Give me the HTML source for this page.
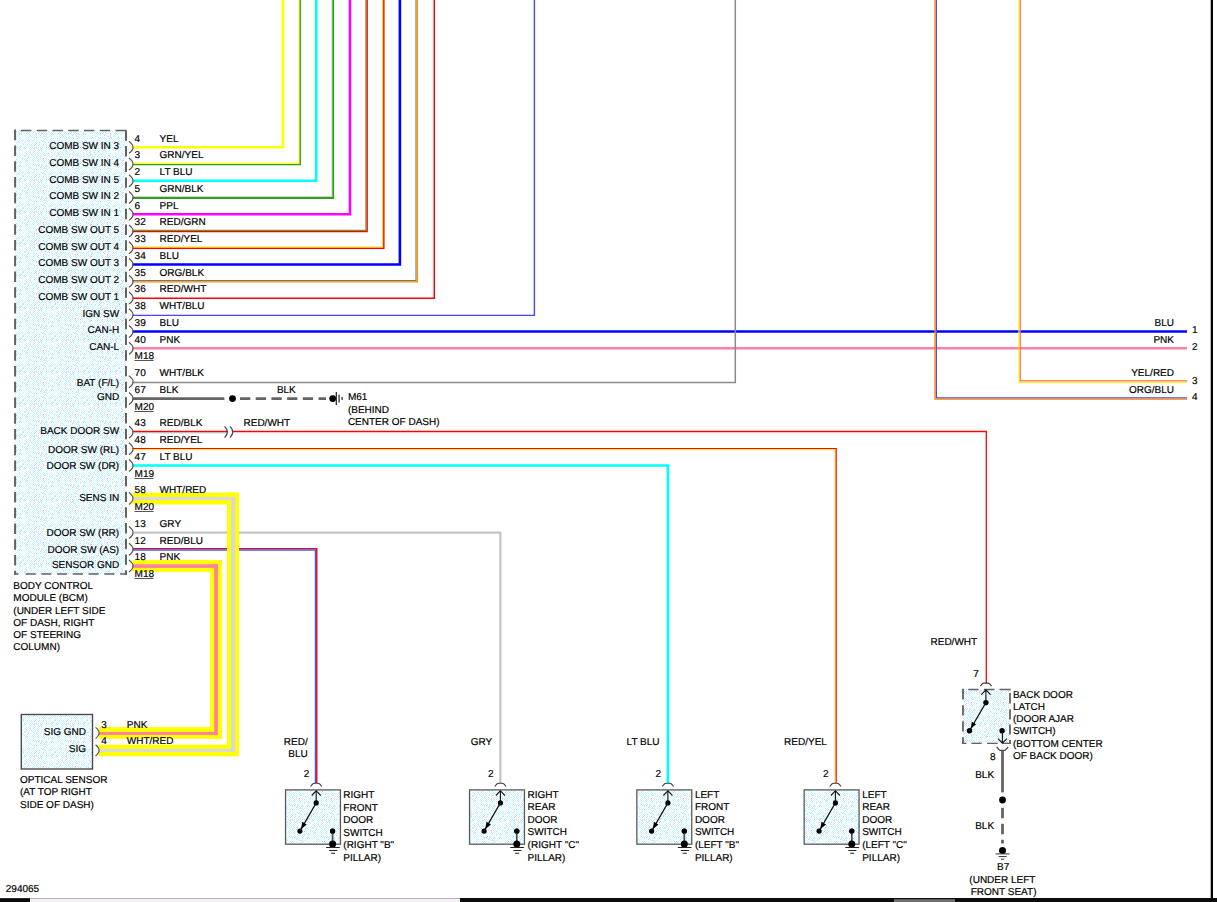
<!DOCTYPE html>
<html><head><meta charset="utf-8"><title>Wiring Diagram</title>
<style>html,body{margin:0;padding:0;background:#fff;}body{width:1217px;height:902px;overflow:hidden;}svg{display:block}text{font-family:"Liberation Sans",sans-serif;font-size:10px;fill:#000;stroke:#000;stroke-width:0.18px;text-rendering:geometricPrecision;}</style>
</head><body>
<svg width="1217" height="902" viewBox="0 0 1217 902">
<rect x="0" y="0" width="1217" height="902" fill="#fff"/>
<defs><pattern id="dz" width="32" height="32" patternUnits="userSpaceOnUse" shape-rendering="crispEdges"><rect width="32" height="32" fill="#fff"/><path d="M1 0.5h1M5 0.5h1M11 0.5h1M27 0.5h1M6 1.5h1M12 1.5h1M26 1.5h1M16 3.5h1M1 4.5h1M7 4.5h1M9 4.5h1M4 5.5h1M6 5.5h1M14 5.5h1M26 5.5h1M9 6.5h1M19 6.5h1M21 6.5h1M8 7.5h1M30 7.5h1M2 9.5h1M4 9.5h1M28 9.5h1M13 10.5h1M2 11.5h1M1 12.5h1M10 13.5h1M18 13.5h1M22 13.5h1M7 14.5h1M25 14.5h1M4 15.5h1M3 16.5h1M11 16.5h1M23 16.5h1M27 16.5h1M31 16.5h1M2 17.5h1M6 17.5h1M14 17.5h1M21 18.5h1M4 19.5h1M6 19.5h1M14 19.5h1M16 19.5h1M24 19.5h1M9 20.5h1M19 20.5h1M6 21.5h1M8 21.5h1M20 21.5h1M19 22.5h1M31 22.5h1M2 23.5h1M25 24.5h1M14 25.5h1M26 25.5h1M5 26.5h1M31 26.5h1M12 27.5h1M1 28.5h1M17 28.5h1M4 29.5h1M8 29.5h1M11 30.5h1M27 30.5h1M6 31.5h1M16 31.5h1M24 31.5h1" stroke="#ccccff" stroke-width="1" fill="none"/><path d="M3 0.5h1M7 0.5h1M9 0.5h1M13 0.5h1M15 0.5h1M17 0.5h1M21 0.5h1M23 0.5h1M29 0.5h1M31 0.5h1M0 1.5h1M2 1.5h1M4 1.5h1M10 1.5h1M14 1.5h1M18 1.5h1M22 1.5h1M24 1.5h1M30 1.5h1M1 2.5h1M3 2.5h1M7 2.5h1M9 2.5h1M11 2.5h1M15 2.5h1M17 2.5h1M19 2.5h1M20 2.5h1M21 2.5h1M23 2.5h1M29 2.5h1M31 2.5h1M0 3.5h1M2 3.5h1M6 3.5h1M10 3.5h1M12 3.5h1M14 3.5h1M18 3.5h1M20 3.5h1M24 3.5h1M26 3.5h1M28 3.5h1M30 3.5h1M3 4.5h1M5 4.5h1M11 4.5h1M13 4.5h1M15 4.5h1M19 4.5h1M21 4.5h1M23 4.5h1M25 4.5h1M29 4.5h1M31 4.5h1M0 5.5h1M2 5.5h1M8 5.5h1M12 5.5h1M18 5.5h1M22 5.5h1M24 5.5h1M28 5.5h1M30 5.5h1M1 6.5h1M3 6.5h1M7 6.5h1M11 6.5h1M13 6.5h1M15 6.5h1M17 6.5h1M23 6.5h1M25 6.5h1M29 6.5h1M31 6.5h1M0 7.5h1M2 7.5h1M4 7.5h1M6 7.5h1M10 7.5h1M12 7.5h1M14 7.5h1M17 7.5h1M18 7.5h1M20 7.5h1M22 7.5h1M24 7.5h1M28 7.5h1M1 8.5h1M5 8.5h1M7 8.5h1M9 8.5h1M11 8.5h1M13 8.5h1M16 8.5h1M17 8.5h1M19 8.5h1M23 8.5h1M27 8.5h1M29 8.5h1M0 9.5h1M6 9.5h1M10 9.5h1M14 9.5h1M18 9.5h1M20 9.5h1M22 9.5h1M26 9.5h1M30 9.5h1M3 10.5h1M7 10.5h1M9 10.5h1M11 10.5h1M15 10.5h1M21 10.5h1M23 10.5h1M27 10.5h1M29 10.5h1M31 10.5h1M0 11.5h1M4 11.5h1M6 11.5h1M8 11.5h1M12 11.5h1M14 11.5h1M16 11.5h1M18 11.5h1M20 11.5h1M22 11.5h1M28 11.5h1M30 11.5h1M4 12.5h1M5 12.5h1M7 12.5h1M11 12.5h1M13 12.5h1M15 12.5h1M17 12.5h1M19 12.5h1M25 12.5h1M31 12.5h1M0 13.5h1M2 13.5h1M4 13.5h1M6 13.5h1M7 13.5h1M8 13.5h1M11 13.5h1M12 13.5h1M14 13.5h1M19 13.5h1M20 13.5h1M24 13.5h1M25 13.5h1M26 13.5h1M28 13.5h1M30 13.5h1M1 14.5h1M5 14.5h1M9 14.5h1M11 14.5h1M15 14.5h1M18 14.5h1M19 14.5h1M21 14.5h1M23 14.5h1M27 14.5h1M28 14.5h1M29 14.5h1M31 14.5h1M0 15.5h1M2 15.5h1M8 15.5h1M10 15.5h1M12 15.5h1M14 15.5h1M16 15.5h1M20 15.5h1M22 15.5h1M24 15.5h1M28 15.5h1M1 16.5h1M9 16.5h1M13 16.5h1M15 16.5h1M17 16.5h1M19 16.5h1M21 16.5h1M25 16.5h1M29 16.5h1M0 17.5h1M4 17.5h1M8 17.5h1M10 17.5h1M11 17.5h1M12 17.5h1M16 17.5h1M18 17.5h1M20 17.5h1M22 17.5h1M24 17.5h1M26 17.5h1M28 17.5h1M30 17.5h1M1 18.5h1M5 18.5h1M7 18.5h1M9 18.5h1M11 18.5h1M15 18.5h1M17 18.5h1M19 18.5h1M23 18.5h1M25 18.5h1M26 18.5h1M27 18.5h1M28 18.5h1M29 18.5h1M31 18.5h1M0 19.5h1M2 19.5h1M12 19.5h1M18 19.5h1M22 19.5h1M26 19.5h1M30 19.5h1M1 20.5h1M3 20.5h1M5 20.5h1M7 20.5h1M10 20.5h1M11 20.5h1M13 20.5h1M17 20.5h1M21 20.5h1M23 20.5h1M24 20.5h1M25 20.5h1M29 20.5h1M31 20.5h1M0 21.5h1M2 21.5h1M4 21.5h1M10 21.5h1M12 21.5h1M14 21.5h1M16 21.5h1M22 21.5h1M24 21.5h1M28 21.5h1M30 21.5h1M1 22.5h1M3 22.5h1M5 22.5h1M8 22.5h1M9 22.5h1M11 22.5h1M13 22.5h1M17 22.5h1M21 22.5h1M25 22.5h1M29 22.5h1M0 23.5h1M6 23.5h1M12 23.5h1M14 23.5h1M22 23.5h1M26 23.5h1M28 23.5h1M30 23.5h1M3 24.5h1M5 24.5h1M7 24.5h1M9 24.5h1M11 24.5h1M13 24.5h1M15 24.5h1M17 24.5h1M27 24.5h1M29 24.5h1M31 24.5h1M0 25.5h1M2 25.5h1M4 25.5h1M8 25.5h1M10 25.5h1M12 25.5h1M16 25.5h1M18 25.5h1M20 25.5h1M22 25.5h1M24 25.5h1M30 25.5h1M1 26.5h1M3 26.5h1M7 26.5h1M9 26.5h1M11 26.5h1M13 26.5h1M15 26.5h1M17 26.5h1M19 26.5h1M21 26.5h1M23 26.5h1M27 26.5h1M29 26.5h1M0 27.5h1M2 27.5h1M6 27.5h1M8 27.5h1M10 27.5h1M14 27.5h1M16 27.5h1M20 27.5h1M22 27.5h1M24 27.5h1M26 27.5h1M28 27.5h1M3 28.5h1M5 28.5h1M7 28.5h1M9 28.5h1M11 28.5h1M13 28.5h1M15 28.5h1M23 28.5h1M25 28.5h1M27 28.5h1M29 28.5h1M31 28.5h1M0 29.5h1M2 29.5h1M6 29.5h1M14 29.5h1M16 29.5h1M18 29.5h1M20 29.5h1M22 29.5h1M24 29.5h1M26 29.5h1M28 29.5h1M30 29.5h1M1 30.5h1M3 30.5h1M5 30.5h1M15 30.5h1M17 30.5h1M19 30.5h1M21 30.5h1M23 30.5h1M25 30.5h1M29 30.5h1M0 31.5h1M2 31.5h1M4 31.5h1M8 31.5h1M12 31.5h1M18 31.5h1M20 31.5h1M22 31.5h1M26 31.5h1M28 31.5h1" stroke="#ccffff" stroke-width="1" fill="none"/><path d="M25 0.5h1M26 0.5h1M16 1.5h1M20 1.5h1M25 2.5h1M21 3.5h1M27 4.5h1M10 5.5h1M19 5.5h1M20 5.5h1M4 6.5h1M14 6.5h1M12 8.5h1M14 8.5h1M31 8.5h1M8 9.5h1M15 9.5h1M5 10.5h1M19 10.5h1M25 10.5h1M9 12.5h1M23 12.5h1M27 12.5h1M29 12.5h1M29 13.5h1M3 14.5h1M13 14.5h1M16 14.5h1M17 14.5h1M23 15.5h1M7 16.5h1M20 18.5h1M8 19.5h1M10 19.5h1M19 19.5h1M20 19.5h1M2 20.5h1M7 22.5h1M9 23.5h1M1 24.5h1M19 24.5h1M30 24.5h1M6 25.5h1M26 26.5h1M9 27.5h1M13 27.5h1M25 27.5h1M19 28.5h1M24 28.5h1M28 28.5h1M13 30.5h1M22 30.5h1M11 31.5h1M14 31.5h1" stroke="#ffccff" stroke-width="1" fill="none"/><path d="M8 1.5h1M5 2.5h1M27 2.5h1M22 3.5h1M17 4.5h1M16 13.5h1M6 15.5h1M28 19.5h1M10 23.5h1M18 23.5h1M30 31.5h1" stroke="#ffffcc" stroke-width="1" fill="none"/><path d="M25 8.5h1M21 12.5h1M18 15.5h1M23 22.5h1" stroke="#ccffcc" stroke-width="1" fill="none"/></pattern></defs>
<rect x="15" y="130.5" width="111" height="443.5" fill="url(#dz)"/>
<path d="M21 130.6 H127" stroke="#626262" stroke-width="1.5" stroke-dasharray="10.4 5.35" fill="none"/>
<path d="M14 130.6 H16" stroke="#626262" stroke-width="1.5" fill="none"/>
<path d="M25.6 574 H127" stroke="#626262" stroke-width="1.5" stroke-dasharray="10.1 5.65" fill="none"/>
<path d="M14 574 H18.5" stroke="#626262" stroke-width="1.5" fill="none"/>
<path d="M15.1 129.8 V574.7" stroke="#626262" stroke-width="2" stroke-dasharray="10.4 5.35" fill="none"/>
<path d="M126 130.3 V574.7" stroke="#626262" stroke-width="2" stroke-dasharray="10.4 5.31" fill="none"/>
<path d="M132.6 147.3 L283 147.3 L283 -2" stroke="#ffff00" stroke-width="2.6" fill="none" />
<path d="M132.6 163.35 L299 163.35 L299 -2" stroke="#ffff00" stroke-width="1.1" fill="none" />
<path d="M132.6 164.6 L300.25 164.6 L300.25 -2" stroke="#2ea01e" stroke-width="1.4" fill="none" />
<path d="M132.6 180.8 L316.3 180.8 L316.3 -2" stroke="#00ffff" stroke-width="2.6" fill="none" />
<path d="M132.6 196.65 L331.9 196.65 L331.9 -2" stroke="#c8c8c8" stroke-width="0.9" fill="none" />
<path d="M132.6 198 L333.25 198 L333.25 -2" stroke="#2ea01e" stroke-width="1.8" fill="none" />
<path d="M132.6 214.3 L350 214.3 L350 -2" stroke="#ff00ff" stroke-width="2.6" fill="none" />
<path d="M132.6 230.35 L365.9 230.35 L365.9 -2" stroke="#5aa028" stroke-width="1.1" fill="none" />
<path d="M132.6 231.6 L367.15 231.6 L367.15 -2" stroke="#ff0000" stroke-width="1.4" fill="none" />
<path d="M132.6 247.1 L382.6 247.1 L382.6 -2" stroke="#ffe000" stroke-width="1.1" fill="none" />
<path d="M132.6 248.35 L383.85 248.35 L383.85 -2" stroke="#ff0000" stroke-width="1.4" fill="none" />
<path d="M132.6 264.55 L399.9 264.55 L399.9 -2" stroke="#0000ff" stroke-width="2.6" fill="none" />
<path d="M132.6 280.6 L416 280.6 L416 -2" stroke="#78786c" stroke-width="1.1" fill="none" />
<path d="M132.6 281.85 L417.25 281.85 L417.25 -2" stroke="#f89000" stroke-width="1.4" fill="none" />
<path d="M132.6 298.35 L434.3 298.35 L434.3 -2" stroke="#ff0000" stroke-width="1.5" fill="none" />
<path d="M132.6 315.4 L534.4 315.4 L534.4 -2" stroke="#4646ff" stroke-width="1.4" fill="none" />
<path d="M132.6 331.55 L1187 331.55" stroke="#0000ff" stroke-width="2.6" fill="none" />
<path d="M132.6 348.3 L1187 348.3" stroke="#ff80a0" stroke-width="2.6" fill="none" />
<path d="M132.6 382.4 L735.3 382.4 L735.3 -2" stroke="#8a8a8a" stroke-width="1.5" fill="none" />
<path d="M936.4 -2 L936.4 397.85 L1187 397.85" stroke="#4848ff" stroke-width="1.2" fill="none" />
<path d="M935.1 -2 L935.1 399.15 L1187 399.15" stroke="#ff8000" stroke-width="1.4" fill="none" />
<path d="M1020.2 -2 L1020.2 380.9 L1187 380.9" stroke="#ff5c5c" stroke-width="1.2" fill="none" />
<path d="M1019 -2 L1019 382.1 L1187 382.1" stroke="#ffec00" stroke-width="1.2" fill="none" />
<path d="M132.6 398.55 L224.4 398.55" stroke="#646464" stroke-width="2.8" fill="none" />
<path d="M240 398.55 H326" stroke="#646464" stroke-width="2.8" stroke-dasharray="10.3 5.4" fill="none"/>
<circle cx="232.5" cy="398.55" r="3.4" fill="#000"/>
<circle cx="332.7" cy="398.55" r="3.4" fill="#000"/>
<path d="M336.3 391.9 V405 M339.1 394.8 V402.4 M342.1 397 V400" stroke="#222" stroke-width="1.2" fill="none"/>
<path d="M132.6 431.45 L227 431.45" stroke="#ff0000" stroke-width="1.4" fill="none" />
<path d="M132.6 432.75 L227 432.75" stroke="#b4b4b4" stroke-width="1.2" fill="none" />
<path d="M233 431.5 L986.3 431.5 L986.3 683.2" stroke="#ff0000" stroke-width="1.3" fill="none" />
<path d="M224.6 426.4 Q230.2 432 224.6 437.6 M230 426.4 Q235.6 432 230 437.6" stroke="#484848" stroke-width="1.25" fill="none"/>
<path d="M835 783 L835 449.7 L132.6 449.7" stroke="#fff040" stroke-width="1.2" fill="none" />
<path d="M836.2 783 L836.2 448.5 L132.6 448.5" stroke="#ff0000" stroke-width="1.2" fill="none" />
<path d="M132.6 465.55 L667.9 465.55 L667.9 783" stroke="#00ffff" stroke-width="2.6" fill="none" />
<path d="M132.6 532.55 L500.4 532.55 L500.4 783" stroke="#c4c4c4" stroke-width="2.2" fill="none" />
<path d="M132.6 548.65 L316.75 548.65 L316.75 783" stroke="#ff0000" stroke-width="1.4" fill="none" />
<path d="M132.6 550 L315.4 550 L315.4 783" stroke="#3c5cff" stroke-width="1.3" fill="none" />
<rect x="132.6" y="492.6" width="106.4" height="11.8" fill="#ffff00"/>
<rect x="227" y="492.6" width="12" height="263.6" fill="#ffff00"/>
<rect x="98.8" y="744.6" width="140.2" height="11.6" fill="#ffff00"/>
<rect x="132.6" y="497.1" width="102.4" height="2.9" fill="#d6d6e8"/>
<rect x="231.1" y="497.1" width="3.9" height="254.8" fill="#d6d6e8"/>
<rect x="98.8" y="749" width="136.2" height="2.9" fill="#d6d6e8"/>
<rect x="132.6" y="560.1" width="89.3" height="11.8" fill="#ffff00"/>
<rect x="210.1" y="560.1" width="11.8" height="178.7" fill="#ffff00"/>
<rect x="98.8" y="727.1" width="123.1" height="11.7" fill="#ffff00"/>
<rect x="132.6" y="564.3" width="85.3" height="3.6" fill="#ff80a0"/>
<rect x="214.2" y="564.3" width="3.7" height="170.6" fill="#ff80a0"/>
<rect x="98.8" y="732" width="119.1" height="2.9" fill="#ff80a0"/>
<path d="M129 141.3 Q133.6 145.1 132.9 147.3 Q133.6 149.5 129 153.3" stroke="#505050" stroke-width="1.15" fill="none"/>
<path d="M129 158.05 Q133.6 161.85 132.9 164.05 Q133.6 166.25 129 170.05" stroke="#505050" stroke-width="1.15" fill="none"/>
<path d="M129 174.8 Q133.6 178.6 132.9 180.8 Q133.6 183 129 186.8" stroke="#505050" stroke-width="1.15" fill="none"/>
<path d="M129 191.55 Q133.6 195.35 132.9 197.55 Q133.6 199.75 129 203.55" stroke="#505050" stroke-width="1.15" fill="none"/>
<path d="M129 208.3 Q133.6 212.1 132.9 214.3 Q133.6 216.5 129 220.3" stroke="#505050" stroke-width="1.15" fill="none"/>
<path d="M129 225.05 Q133.6 228.85 132.9 231.05 Q133.6 233.25 129 237.05" stroke="#505050" stroke-width="1.15" fill="none"/>
<path d="M129 241.8 Q133.6 245.6 132.9 247.8 Q133.6 250 129 253.8" stroke="#505050" stroke-width="1.15" fill="none"/>
<path d="M129 258.55 Q133.6 262.35 132.9 264.55 Q133.6 266.75 129 270.55" stroke="#505050" stroke-width="1.15" fill="none"/>
<path d="M129 275.3 Q133.6 279.1 132.9 281.3 Q133.6 283.5 129 287.3" stroke="#505050" stroke-width="1.15" fill="none"/>
<path d="M129 292.05 Q133.6 295.85 132.9 298.05 Q133.6 300.25 129 304.05" stroke="#505050" stroke-width="1.15" fill="none"/>
<path d="M129 308.8 Q133.6 312.6 132.9 314.8 Q133.6 317 129 320.8" stroke="#505050" stroke-width="1.15" fill="none"/>
<path d="M129 325.55 Q133.6 329.35 132.9 331.55 Q133.6 333.75 129 337.55" stroke="#505050" stroke-width="1.15" fill="none"/>
<path d="M129 342.3 Q133.6 346.1 132.9 348.3 Q133.6 350.5 129 354.3" stroke="#505050" stroke-width="1.15" fill="none"/>
<path d="M129 375.8 Q133.6 379.6 132.9 381.8 Q133.6 384 129 387.8" stroke="#505050" stroke-width="1.15" fill="none"/>
<path d="M129 392.55 Q133.6 396.35 132.9 398.55 Q133.6 400.75 129 404.55" stroke="#505050" stroke-width="1.15" fill="none"/>
<path d="M129 426.05 Q133.6 429.85 132.9 432.05 Q133.6 434.25 129 438.05" stroke="#505050" stroke-width="1.15" fill="none"/>
<path d="M129 442.8 Q133.6 446.6 132.9 448.8 Q133.6 451 129 454.8" stroke="#505050" stroke-width="1.15" fill="none"/>
<path d="M129 459.55 Q133.6 463.35 132.9 465.55 Q133.6 467.75 129 471.55" stroke="#505050" stroke-width="1.15" fill="none"/>
<path d="M129 492.5 Q133.6 496.3 132.9 498.5 Q133.6 500.7 129 504.5" stroke="#505050" stroke-width="1.15" fill="none"/>
<path d="M129 526.55 Q133.6 530.35 132.9 532.55 Q133.6 534.75 129 538.55" stroke="#505050" stroke-width="1.15" fill="none"/>
<path d="M129 543.3 Q133.6 547.1 132.9 549.3 Q133.6 551.5 129 555.3" stroke="#505050" stroke-width="1.15" fill="none"/>
<path d="M129 560 Q133.6 563.8 132.9 566 Q133.6 568.2 129 572" stroke="#505050" stroke-width="1.15" fill="none"/>
<text x="119.2" y="149" text-anchor="end">COMB SW IN 3</text>
<text x="119.2" y="166" text-anchor="end">COMB SW IN 4</text>
<text x="119.2" y="183" text-anchor="end">COMB SW IN 5</text>
<text x="119.2" y="199" text-anchor="end">COMB SW IN 2</text>
<text x="119.2" y="216" text-anchor="end">COMB SW IN 1</text>
<text x="119.2" y="233" text-anchor="end">COMB SW OUT 5</text>
<text x="119.2" y="250" text-anchor="end">COMB SW OUT 4</text>
<text x="119.2" y="266" text-anchor="end">COMB SW OUT 3</text>
<text x="119.2" y="283" text-anchor="end">COMB SW OUT 2</text>
<text x="119.2" y="300" text-anchor="end">COMB SW OUT 1</text>
<text x="119.2" y="317" text-anchor="end">IGN SW</text>
<text x="119.2" y="333" text-anchor="end">CAN-H</text>
<text x="119.2" y="350" text-anchor="end">CAN-L</text>
<text x="119.2" y="386" text-anchor="end">BAT (F/L)</text>
<text x="119.2" y="400" text-anchor="end">GND</text>
<text x="119.2" y="434" text-anchor="end">BACK DOOR SW</text>
<text x="119.2" y="453" text-anchor="end">DOOR SW (RL)</text>
<text x="119.2" y="469" text-anchor="end">DOOR SW (DR)</text>
<text x="119.2" y="501" text-anchor="end">SENS IN</text>
<text x="119.2" y="536" text-anchor="end">DOOR SW (RR)</text>
<text x="119.2" y="553" text-anchor="end">DOOR SW (AS)</text>
<text x="119.2" y="568" text-anchor="end">SENSOR GND</text>
<text x="134.6" y="142">4</text>
<text x="159.6" y="142">YEL</text>
<text x="134.6" y="158">3</text>
<text x="159.6" y="158">GRN/YEL</text>
<text x="134.6" y="175">2</text>
<text x="159.6" y="175">LT BLU</text>
<text x="134.6" y="192">5</text>
<text x="159.6" y="192">GRN/BLK</text>
<text x="134.6" y="209">6</text>
<text x="159.6" y="209">PPL</text>
<text x="134.6" y="225">32</text>
<text x="159.6" y="225">RED/GRN</text>
<text x="134.6" y="242">33</text>
<text x="159.6" y="242">RED/YEL</text>
<text x="134.6" y="259">34</text>
<text x="159.6" y="259">BLU</text>
<text x="134.6" y="276">35</text>
<text x="159.6" y="276">ORG/BLK</text>
<text x="134.6" y="292">36</text>
<text x="159.6" y="292">RED/WHT</text>
<text x="134.6" y="309">38</text>
<text x="159.6" y="309">WHT/BLU</text>
<text x="134.6" y="326">39</text>
<text x="159.6" y="326">BLU</text>
<text x="134.6" y="343">40</text>
<text x="159.6" y="343">PNK</text>
<text x="134.6" y="376">70</text>
<text x="159.6" y="376">WHT/BLK</text>
<text x="134.6" y="393">67</text>
<text x="159.6" y="393">BLK</text>
<text x="134.6" y="426">43</text>
<text x="159.6" y="426">RED/BLK</text>
<text x="134.6" y="443">48</text>
<text x="159.6" y="443">RED/YEL</text>
<text x="134.6" y="460">47</text>
<text x="159.6" y="460">LT BLU</text>
<text x="134.6" y="493">58</text>
<text x="159.6" y="493">WHT/RED</text>
<text x="134.6" y="527">13</text>
<text x="159.6" y="527">GRY</text>
<text x="134.6" y="544">12</text>
<text x="159.6" y="544">RED/BLU</text>
<text x="134.6" y="560">18</text>
<text x="159.6" y="560">PNK</text>
<text x="134.6" y="359" fill="#222" stroke="#222">M18</text>
<path d="M134.4 360.5 H153.6" stroke="#555" stroke-width="1"/>
<text x="134.6" y="410" fill="#222" stroke="#222">M20</text>
<path d="M134.4 411.5 H153.6" stroke="#555" stroke-width="1"/>
<text x="134.6" y="477" fill="#222" stroke="#222">M19</text>
<path d="M134.4 478.5 H153.6" stroke="#555" stroke-width="1"/>
<text x="134.6" y="510" fill="#222" stroke="#222">M20</text>
<path d="M134.4 511.5 H153.6" stroke="#555" stroke-width="1"/>
<text x="134.6" y="577" fill="#222" stroke="#222">M18</text>
<path d="M134.4 578.5 H153.6" stroke="#555" stroke-width="1"/>
<text x="276.9" y="393">BLK</text>
<text x="243.5" y="426">RED/WHT</text>
<text x="347.9" y="400">M61</text>
<text x="347.9" y="413">(BEHIND</text>
<text x="347.9" y="425">CENTER OF DASH)</text>
<text x="13.3" y="589">BODY CONTROL</text>
<text x="13.3" y="601">MODULE (BCM)</text>
<text x="13.3" y="614">(UNDER LEFT SIDE</text>
<text x="13.3" y="626">OF DASH, RIGHT</text>
<text x="13.3" y="638">OF STEERING</text>
<text x="13.3" y="650">COLUMN)</text>
<text x="1174" y="326" text-anchor="end">BLU</text>
<text x="1174" y="343" text-anchor="end">PNK</text>
<text x="1174" y="376" text-anchor="end">YEL/RED</text>
<text x="1174" y="393" text-anchor="end">ORG/BLU</text>
<text x="1192" y="333">1</text>
<text x="1192" y="350">2</text>
<text x="1192" y="384">3</text>
<text x="1192" y="400">4</text>
<rect x="21.3" y="714.5" width="71.2" height="54.5" fill="url(#dz)" stroke="#4a4a4a" stroke-width="1.4"/>
<path d="M95.6 727.4 Q99.6 731 99 733 Q99.6 735 95.6 738.6" stroke="#505050" stroke-width="1.15" fill="none"/>
<path d="M95.6 744.8 Q99.6 748.4 99 750.4 Q99.6 752.4 95.6 756" stroke="#505050" stroke-width="1.15" fill="none"/>
<text x="86" y="735" text-anchor="end">SIG GND</text>
<text x="86" y="752" text-anchor="end">SIG</text>
<text x="101.2" y="728">3</text>
<text x="126.8" y="728">PNK</text>
<text x="101.2" y="744">4</text>
<text x="126.8" y="744">WHT/RED</text>
<text x="20" y="783">OPTICAL SENSOR</text>
<text x="20" y="795">(AT TOP RIGHT</text>
<text x="20" y="808">SIDE OF DASH)</text>
<rect x="285.55" y="789.9" width="54.9" height="54.3" fill="url(#dz)" stroke="#5a5a5a" stroke-width="1.3"/>
<path d="M310.5 786.5 L312.8 783.8 Q313.4 783.2 314.6 783.2 H317.8 Q319 783.2 319.6 783.8 L321.9 786.5" stroke="#3c3c3c" stroke-width="1.15" fill="none"/>
<path d="M316.2 802.9 V790.9 M311.7 795.5 L316.2 790.7 L320.7 795.5" stroke="#111" stroke-width="1.1" fill="none"/>
<circle cx="316.2" cy="802.9" r="2.6" fill="#000"/>
<circle cx="299.9" cy="831.1" r="2.6" fill="#000"/>
<circle cx="332.6" cy="831.1" r="2.6" fill="#000"/>
<path d="M316.2 802.9 L299.9 831.1" stroke="#111" stroke-width="1.2" fill="none"/>
<path d="M301 829.2 L302.25 821.83 L306.75 824.44 Z" fill="#000"/>
<path d="M332.6 831.1 V843.9" stroke="#4c4c4c" stroke-width="1.7"/>
<circle cx="332.6" cy="831.1" r="2.6" fill="#000"/>
<circle cx="332.6" cy="844.1" r="3.5" fill="#000"/>
<path d="M326.1 847.5 H339.8 M329.2 850.5 H337.2 M331 853.2 H335" stroke="#222" stroke-width="1.15" fill="none"/>
<text x="343.3" y="798">RIGHT</text>
<text x="343.3" y="811">FRONT</text>
<text x="343.3" y="823">DOOR</text>
<text x="343.3" y="836">SWITCH</text>
<text x="343.3" y="848">(RIGHT &quot;B&quot;</text>
<text x="343.3" y="861">PILLAR)</text>
<text x="303.7" y="777">2</text>
<text x="283.8" y="745">RED/</text>
<text x="288.3" y="757">BLU</text>
<rect x="469.55" y="789.9" width="54.9" height="54.3" fill="url(#dz)" stroke="#5a5a5a" stroke-width="1.3"/>
<path d="M494.7 786.5 L497 783.8 Q497.6 783.2 498.8 783.2 H502 Q503.2 783.2 503.8 783.8 L506.1 786.5" stroke="#3c3c3c" stroke-width="1.15" fill="none"/>
<path d="M500.4 802.9 V790.9 M495.9 795.5 L500.4 790.7 L504.9 795.5" stroke="#111" stroke-width="1.1" fill="none"/>
<circle cx="500.4" cy="802.9" r="2.6" fill="#000"/>
<circle cx="484.1" cy="831.1" r="2.6" fill="#000"/>
<circle cx="516.8" cy="831.1" r="2.6" fill="#000"/>
<path d="M500.4 802.9 L484.1 831.1" stroke="#111" stroke-width="1.2" fill="none"/>
<path d="M485.2 829.2 L486.45 821.83 L490.95 824.44 Z" fill="#000"/>
<path d="M516.8 831.1 V843.9" stroke="#4c4c4c" stroke-width="1.7"/>
<circle cx="516.8" cy="831.1" r="2.6" fill="#000"/>
<circle cx="516.8" cy="844.1" r="3.5" fill="#000"/>
<path d="M510.3 847.5 H524 M513.4 850.5 H521.4 M515.2 853.2 H519.2" stroke="#222" stroke-width="1.15" fill="none"/>
<text x="527.6" y="798">RIGHT</text>
<text x="527.6" y="810">REAR</text>
<text x="527.6" y="823">DOOR</text>
<text x="527.6" y="835">SWITCH</text>
<text x="527.6" y="848">(RIGHT &quot;C&quot;</text>
<text x="527.6" y="861">PILLAR)</text>
<text x="487.9" y="777">2</text>
<text x="470.8" y="745">GRY</text>
<rect x="636.85" y="789.9" width="54.9" height="54.3" fill="url(#dz)" stroke="#5a5a5a" stroke-width="1.3"/>
<path d="M662.2 786.5 L664.5 783.8 Q665.1 783.2 666.3 783.2 H669.5 Q670.7 783.2 671.3 783.8 L673.6 786.5" stroke="#3c3c3c" stroke-width="1.15" fill="none"/>
<path d="M667.9 802.9 V790.9 M663.4 795.5 L667.9 790.7 L672.4 795.5" stroke="#111" stroke-width="1.1" fill="none"/>
<circle cx="667.9" cy="802.9" r="2.6" fill="#000"/>
<circle cx="651.6" cy="831.1" r="2.6" fill="#000"/>
<circle cx="684.3" cy="831.1" r="2.6" fill="#000"/>
<path d="M667.9 802.9 L651.6 831.1" stroke="#111" stroke-width="1.2" fill="none"/>
<path d="M652.7 829.2 L653.95 821.83 L658.45 824.44 Z" fill="#000"/>
<path d="M684.3 831.1 V843.9" stroke="#4c4c4c" stroke-width="1.7"/>
<circle cx="684.3" cy="831.1" r="2.6" fill="#000"/>
<circle cx="684.3" cy="844.1" r="3.5" fill="#000"/>
<path d="M677.8 847.5 H691.5 M680.9 850.5 H688.9 M682.7 853.2 H686.7" stroke="#222" stroke-width="1.15" fill="none"/>
<text x="694.9" y="798">LEFT</text>
<text x="694.9" y="810">FRONT</text>
<text x="694.9" y="823">DOOR</text>
<text x="694.9" y="835">SWITCH</text>
<text x="694.9" y="848">(LEFT &quot;B&quot;</text>
<text x="694.9" y="861">PILLAR)</text>
<text x="655.4" y="777">2</text>
<text x="626.6" y="745">LT BLU</text>
<rect x="804.15" y="789.9" width="54.9" height="54.3" fill="url(#dz)" stroke="#5a5a5a" stroke-width="1.3"/>
<path d="M829.7 786.5 L832 783.8 Q832.6 783.2 833.8 783.2 H837 Q838.2 783.2 838.8 783.8 L841.1 786.5" stroke="#3c3c3c" stroke-width="1.15" fill="none"/>
<path d="M835.4 802.9 V790.9 M830.9 795.5 L835.4 790.7 L839.9 795.5" stroke="#111" stroke-width="1.1" fill="none"/>
<circle cx="835.4" cy="802.9" r="2.6" fill="#000"/>
<circle cx="819.1" cy="831.1" r="2.6" fill="#000"/>
<circle cx="851.8" cy="831.1" r="2.6" fill="#000"/>
<path d="M835.4 802.9 L819.1 831.1" stroke="#111" stroke-width="1.2" fill="none"/>
<path d="M820.2 829.2 L821.45 821.83 L825.95 824.44 Z" fill="#000"/>
<path d="M851.8 831.1 V843.9" stroke="#4c4c4c" stroke-width="1.7"/>
<circle cx="851.8" cy="831.1" r="2.6" fill="#000"/>
<circle cx="851.8" cy="844.1" r="3.5" fill="#000"/>
<path d="M845.3 847.5 H859 M848.4 850.5 H856.4 M850.2 853.2 H854.2" stroke="#222" stroke-width="1.15" fill="none"/>
<text x="862.2" y="798">LEFT</text>
<text x="862.2" y="810">REAR</text>
<text x="862.2" y="823">DOOR</text>
<text x="862.2" y="835">SWITCH</text>
<text x="862.2" y="848">(LEFT &quot;C&quot;</text>
<text x="862.2" y="861">PILLAR)</text>
<text x="822.9" y="777">2</text>
<text x="784.1" y="745">RED/YEL</text>
<rect x="963" y="689.5" width="47" height="53.9" fill="url(#dz)"/>
<path d="M962.2 689.5 H964 M968.3 689.5 H978.5 M983.9 689.5 H994.5 M999.5 689.5 H1010.8" stroke="#626262" stroke-width="1.3" fill="none"/>
<path d="M962.2 743.4 H966.5 M971.4 743.4 H981.6 M987 743.4 H997.6 M1002.8 743.4 H1010.8" stroke="#626262" stroke-width="1.3" fill="none"/>
<path d="M963 689 V699.5 M963 705.3 V715.5 M963 721.3 V731.5 M963 737.2 V744" stroke="#626262" stroke-width="1.8" fill="none"/>
<path d="M1010 692.9 V703.5 M1010 709.3 V719.5 M1010 724.4 V734.6 M1010 739.9 V744" stroke="#626262" stroke-width="1.8" fill="none"/>
<path d="M980.3 686.1 L982.6 683.7 Q983.2 683.1 984.4 683.1 H987.6 Q988.8 683.1 989.4 683.7 L991.6 686.1" stroke="#3c3c3c" stroke-width="1.15" fill="none"/>
<path d="M985.9 702.6 V690 M981.3 694.6 L985.9 689.8 L990.5 694.6" stroke="#111" stroke-width="1.1" fill="none"/>
<circle cx="985.9" cy="702.6" r="2.7" fill="#000"/>
<circle cx="969.5" cy="730.8" r="2.7" fill="#000"/>
<circle cx="1002.1" cy="730.8" r="2.7" fill="#000"/>
<path d="M985.9 702.6 L969.5 730.8" stroke="#111" stroke-width="1.2"/>
<path d="M970.71 728.73 L971.81 721.85 L976.14 724.36 Z" fill="#000"/>
<path d="M1002.4 730.8 V743 M998 738.6 L1002.4 743.2 L1006.9 738.6" stroke="#111" stroke-width="1.1" fill="none"/>
<path d="M996.7 747 L999 749.6 Q999.6 750.3 1000.8 750.3 H1004 Q1005.2 750.3 1005.8 749.6 L1008.2 747" stroke="#3c3c3c" stroke-width="1.15" fill="none"/>
<path d="M1002.5 750.5 L1002.5 792.4" stroke="#646464" stroke-width="2.8" fill="none" />
<circle cx="1002.5" cy="800" r="3.4" fill="#000"/>
<path d="M1002.5 807.8 V843.4" stroke="#646464" stroke-width="2.8" stroke-dasharray="10.4 5.6" fill="none"/>
<circle cx="1002.5" cy="850.6" r="3.5" fill="#000"/>
<path d="M995.6 853.9 H1009.6 M998.6 856.6 H1006.6 M1001 859.2 H1004.2" stroke="#333" stroke-width="1" fill="none"/>
<text x="1012.9" y="698">BACK DOOR</text>
<text x="1012.9" y="710">LATCH</text>
<text x="1012.9" y="722">(DOOR AJAR</text>
<text x="1012.9" y="734">SWITCH)</text>
<text x="1012.9" y="747">(BOTTOM CENTER</text>
<text x="1012.9" y="759">OF BACK DOOR)</text>
<text x="973.3" y="677">7</text>
<text x="990" y="760">8</text>
<text x="975.2" y="778">BLK</text>
<text x="975.2" y="829">BLK</text>
<text x="930.5" y="645">RED/WHT</text>
<text x="1003.2" y="870" text-anchor="middle">B7</text>
<text x="1002.4" y="883" text-anchor="middle">(UNDER LEFT</text>
<text x="1003.6" y="895" text-anchor="middle">FRONT SEAT)</text>
<text x="5.8" y="892">294065</text>
<rect x="1210.7" y="0" width="2.3" height="899" fill="#000"/>
<rect x="0" y="898" width="460" height="1" fill="#b4b4b4"/>
<rect x="0" y="899" width="460" height="3" fill="#f6eef6"/>
<rect x="0" y="898.2" width="30" height="4" fill="#0a0a0a"/>
<rect x="460" y="898" width="757" height="4" fill="#0c0c0c"/>
<rect x="894" y="899.2" width="61" height="3" fill="#707070"/>
</svg></body></html>
